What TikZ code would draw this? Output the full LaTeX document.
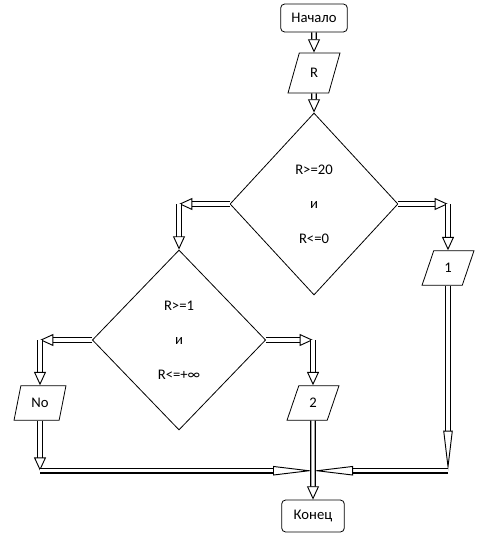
\documentclass[tikz,border=0pt]{standalone}
\usepackage{fontspec}
\setmainfont{Carlito}
\usetikzlibrary{calc,arrows.meta,shapes.geometric}

\begin{document}
\begin{tikzpicture}[x=0.75pt,y=-0.75pt]
%
% Styles
%
\tikzset{every node/.style={font=\fontsize{11}{13}\selectfont}};%
\tikzset{bloc/.style={draw, line width=0.6pt, inner sep=0pt}};%
\tikzset{bout/.style={bloc, rectangle, rounded corners=3pt, minimum width=50pt, minimum height=21pt}};%
\tikzset{donnee/.style={bloc, trapezium, trapezium left angle=72, trapezium right angle=108, trapezium stretches=true, minimum width=39pt, minimum height=26pt}};%
\tikzset{test/.style={bloc, diamond, align=center}};%
\tikzset{fleche/.style={double, double distance=2.6pt, line width=0.9pt, -{Triangle[open, length=10pt, width=9pt, line width=0.7pt]}}};%
\tikzset{fleche longue/.style={fleche, -{Triangle[open, length=30pt, width=7pt, line width=0.7pt]}}};%
\useasboundingbox (0,0) rectangle (494,545);%

%
% Blocs
%
\node[bout] (debut) at (314,18) {Начало};%
\node[donnee, minimum width=39pt, minimum height=30pt] (lireR) at (314,73) {R};%
\node[test, minimum width=126pt, minimum height=136.5pt] (test1) at (314,204) {R>=20\\[13pt]и\\[13pt]R<=0};%
\node[test, minimum width=130pt, minimum height=135pt] (test2) at (179,340) {R>=1\\[13pt]и\\[13pt]R<=+∞};%
\node[donnee] (un) at (448,268) {1};%
\node[donnee] (non) at (40,403) {No};%
\node[donnee] (deux) at (313,403) {2};%
\node[bout, minimum width=47pt, minimum height=24pt] (fin) at (313,516) {Конец};%

%
% Coins
%
\coordinate (coinG) at (test2.north |- test1.west);%
\coordinate (coinD) at (un.north |- test1.east);%
\coordinate (coinNon) at (non.north |- test2.west);%
\coordinate (coinDeux) at (deux.north |- test2.east);%
\coordinate (basNon) at ($(non.south)+(0,50)$);%
\coordinate (basUn) at (un.south |- basNon);%
\coordinate (jonction) at (deux.south |- basNon);%

%
% Fleches
%
\draw[fleche] (debut) -- (lireR);%
\draw[fleche] (lireR) -- (test1);%
\draw[fleche] (test1.west) -- (coinG);%
\draw[fleche] (coinG) -- (test2.north);%
\draw[fleche] (test1.east) -- (coinD);%
\draw[fleche] (coinD) -- (un.north);%
\draw[fleche] (test2.west) -- (coinNon);%
\draw[fleche] (coinNon) -- (non.north);%
\draw[fleche] (test2.east) -- (coinDeux);%
\draw[fleche] (coinDeux) -- (deux.north);%
\draw[fleche] (non.south) -- (basNon);%
\draw[fleche longue] (un.south) -- (basUn);%
\draw[fleche longue] (basNon) -- (jonction);%
\draw[fleche longue] (basUn) -- (jonction);%
\draw[fleche] (deux.south) -- (fin.north);%
\end{tikzpicture}
\end{document}
